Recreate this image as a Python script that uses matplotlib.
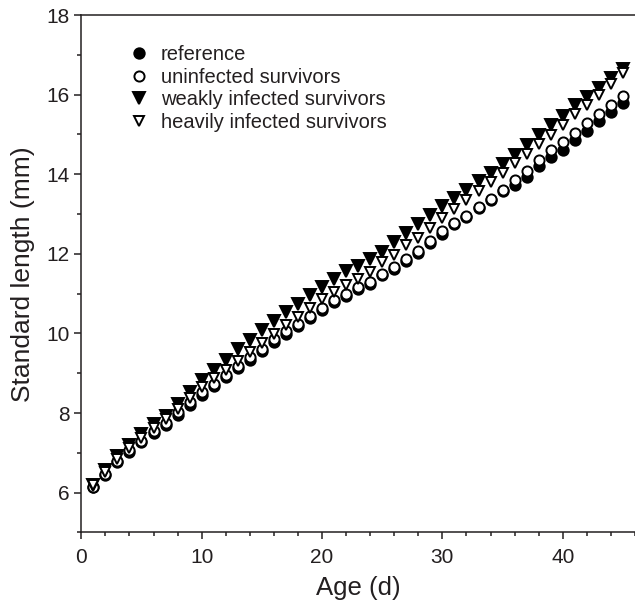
import numpy as np
import matplotlib
matplotlib.use("Agg")
import matplotlib.pyplot as plt
from matplotlib.ticker import MultipleLocator

plt.rcParams["font.family"] = ["Liberation Sans", "DejaVu Sans"]

INK = "#231f20"

age = np.arange(1, 46)

reference = [
    6.13, 6.45, 6.77, 7.03, 7.26, 7.50, 7.71, 7.96, 8.21, 8.46,
    8.68, 8.90, 9.12, 9.34, 9.57, 9.79, 9.99, 10.19, 10.40, 10.58,
    10.79, 10.95, 11.12, 11.25, 11.46, 11.62, 11.83, 12.03, 12.27, 12.50,
    12.74, 12.92, 13.15, 13.35, 13.57, 13.72, 13.92, 14.20, 14.44, 14.62,
    14.86, 15.10, 15.35, 15.56, 15.80,
]
uninfected = [
    6.15, 6.48, 6.80, 7.07, 7.30, 7.55, 7.76, 8.02, 8.27, 8.52,
    8.74, 8.96, 9.18, 9.40, 9.62, 9.85, 10.05, 10.25, 10.45, 10.63,
    10.84, 11.00, 11.17, 11.29, 11.50, 11.66, 11.87, 12.08, 12.33, 12.58,
    12.78, 12.95, 13.18, 13.38, 13.61, 13.85, 14.09, 14.36, 14.61, 14.82,
    15.04, 15.29, 15.52, 15.74, 15.97,
]
weakly = [
    6.20, 6.57, 6.92, 7.20, 7.48, 7.72, 7.92, 8.22, 8.52, 8.82,
    9.08, 9.34, 9.60, 9.83, 10.09, 10.31, 10.54, 10.75, 10.96, 11.17,
    11.36, 11.56, 11.70, 11.86, 12.05, 12.29, 12.53, 12.74, 12.97, 13.20,
    13.41, 13.61, 13.82, 14.04, 14.26, 14.48, 14.73, 14.98, 15.23, 15.47,
    15.73, 15.95, 16.18, 16.43, 16.64,
]
heavily = [
    6.18, 6.52, 6.84, 7.12, 7.38, 7.62, 7.84, 8.10, 8.38, 8.65,
    8.87, 9.09, 9.30, 9.53, 9.76, 9.98, 10.20, 10.42, 10.64, 10.86,
    11.04, 11.21, 11.37, 11.54, 11.79, 11.97, 12.22, 12.41, 12.66, 12.89,
    13.12, 13.35, 13.57, 13.80, 14.03, 14.28, 14.52, 14.75, 14.98, 15.23,
    15.52, 15.73, 16.00, 16.27, 16.55,
]

labels = [
    "reference",
    "uninfected survivors",
    "weakly infected survivors",
    "heavily infected survivors",
]

fig = plt.figure(figsize=(6.35, 6.05), dpi=100)
ax = fig.add_axes([0.128, 0.12, 0.872, 0.855])

style = dict(linestyle="none", markeredgecolor="black", markeredgewidth=1.4)
ax.plot(age, reference, marker="o", ms=7.5, color="black", label=labels[0], **style)
ax.plot(age, uninfected, marker="o", ms=7.3, markerfacecolor="white", label=labels[1], **style)
ax.plot(age, weakly, marker="v", ms=8, color="black", label=labels[2], **style)
ax.plot(age, heavily, marker="v", ms=7.6, markerfacecolor="white", label=labels[3], **style)

ax.set_xlim(0, 46)
ax.set_ylim(5, 18)
ax.xaxis.set_major_locator(MultipleLocator(10))
ax.xaxis.set_minor_locator(MultipleLocator(2))
ax.yaxis.set_major_locator(MultipleLocator(2))
ax.yaxis.set_minor_locator(MultipleLocator(1))

ax.spines["right"].set_visible(False)
for side in ("left", "bottom", "top"):
    ax.spines[side].set_linewidth(1.1)
    ax.spines[side].set_color(INK)
ax.tick_params(which="major", direction="out", length=5, width=1.1, colors=INK,
               labelsize=15, labelcolor=INK)
ax.tick_params(axis="x", which="major", pad=6)
ax.tick_params(which="minor", direction="out", length=3, width=1.1, colors=INK)
ax.tick_params(top=False, right=False, which="both")

ax.set_xlabel("Age (d)", fontsize=18.5, color=INK, labelpad=7)
ax.set_ylabel("Standard length (mm)", fontsize=19, color=INK, labelpad=8)

leg = ax.legend(loc="upper left", bbox_to_anchor=(0.071, 0.957), frameon=False,
                fontsize=14.5, handletextpad=0.6, labelspacing=0.17,
                handlelength=1.0, borderaxespad=0)
for t in leg.get_texts():
    t.set_color(INK)

fig.savefig("out.png", dpi=100)
